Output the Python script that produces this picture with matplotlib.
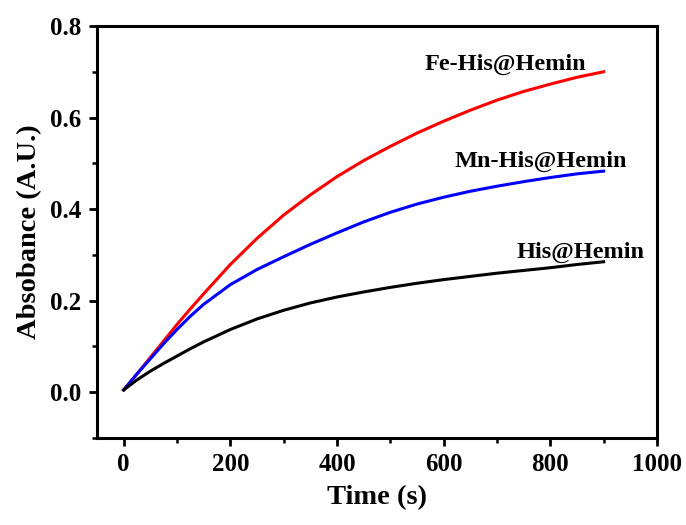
import matplotlib
matplotlib.use('Agg')
import matplotlib.pyplot as plt
from matplotlib.ticker import MultipleLocator

plt.rcParams['font.family'] = ['Liberation Serif', 'DejaVu Serif']
plt.rcParams['font.weight'] = 'bold'

# Data (time in s, absorbance in A.U.)
time = [0, 25, 50, 75, 100, 125, 150, 200, 250, 300, 350, 400, 450, 500,
        550, 600, 650, 700, 750, 800, 850, 900]
fe_his = [0.005, 0.040, 0.076, 0.112, 0.148, 0.182, 0.215, 0.279, 0.336,
          0.387, 0.431, 0.471, 0.506, 0.537, 0.566, 0.592, 0.616, 0.638,
          0.657, 0.673, 0.688, 0.700]
mn_his = [0.005, 0.040, 0.073, 0.106, 0.137, 0.166, 0.192, 0.235, 0.268,
          0.296, 0.323, 0.348, 0.372, 0.393, 0.411, 0.426, 0.439, 0.450,
          0.460, 0.469, 0.477, 0.483]
his = [0.005, 0.027, 0.046, 0.063, 0.079, 0.095, 0.110, 0.137, 0.160,
       0.179, 0.195, 0.208, 0.219, 0.229, 0.238, 0.246, 0.253, 0.260,
       0.266, 0.272, 0.279, 0.285]

labels = ['Fe-His@Hemin', 'Mn-His@Hemin', 'His@Hemin']
colors = ['#ff0000', '#0000ff', '#000000']
label_x = [716, 783, 856]
label_y = [0.715, 0.505, 0.306]

fig = plt.figure(figsize=(6.86, 5.25), dpi=100)
ax = fig.add_axes([0.1414, 0.1657, 0.8163, 0.7848])

for ys, c in zip([fe_his, mn_his, his], colors):
    ax.plot(time, ys, color=c, lw=2.2, solid_joinstyle='round')

for lab, lx, ly in zip(labels, label_x, label_y):
    ax.text(lx, ly, lab, ha='center', va='center', fontsize=17.5, fontweight='bold')

ax.set_xlim(-50, 1000)
ax.set_ylim(-0.1, 0.8)
ax.xaxis.set_major_locator(MultipleLocator(200))
ax.xaxis.set_minor_locator(MultipleLocator(100))
ax.yaxis.set_major_locator(MultipleLocator(0.2))
ax.yaxis.set_minor_locator(MultipleLocator(0.1))
ax.yaxis.set_major_formatter(plt.FormatStrFormatter('%.1f'))

for s in ax.spines.values():
    s.set_linewidth(2.2)
ax.tick_params(which='major', direction='out', length=6, width=2, labelsize=18, pad=5)
ax.tick_params(which='minor', direction='out', length=3.5, width=1.8)
for t in ax.get_xticklabels() + ax.get_yticklabels():
    t.set_fontweight('bold')

ax.set_xlabel('Time (s)', fontsize=20.5, fontweight='bold', labelpad=6)
ax.set_ylabel('Absobance (A.U.)', fontsize=20.5, fontweight='bold', labelpad=6)

fig.savefig('out.png', dpi=100)
